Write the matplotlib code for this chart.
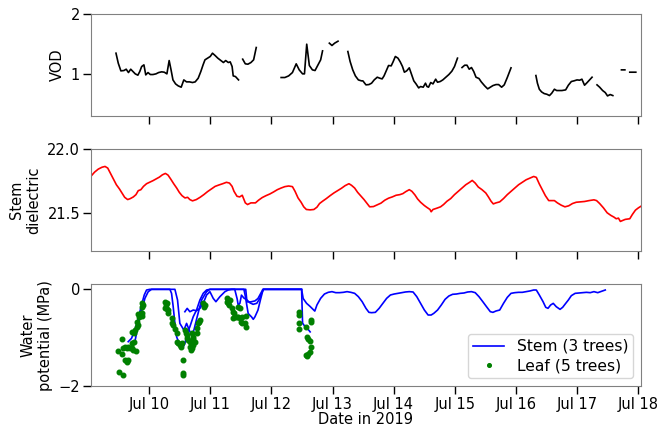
import numpy as np
import matplotlib
matplotlib.use('Agg')
import matplotlib.pyplot as plt
import matplotlib.dates as mdates

nan = np.nan

# (days since 2019-07-09 00:00, value)
vod = [
    (0.457, 1.346), (0.494, 1.179), (0.537, 1.050), (0.587, 1.056), (0.624, 1.078),
    (0.661, 1.022), (0.698, 1.078), (0.735, 1.039), (0.772, 1.000), (0.815, 0.978),
    (0.846, 1.039), (0.877, 1.123), (0.914, 1.151), (0.944, 0.983), (0.981, 1.022),
    (1.019, 0.989), (1.062, 0.989), (1.111, 1.000), (1.154, 1.022), (1.204, 1.034),
    (1.247, 1.028), (1.290, 1.000), (1.327, 1.223), (1.358, 1.067), (1.389, 0.899),
    (1.432, 0.832), (1.475, 0.799), (1.524, 0.777), (1.567, 0.899), (1.611, 0.866),
    (1.660, 0.866), (1.709, 0.855), (1.753, 0.866), (1.802, 0.927), (1.845, 1.039),
    (1.882, 1.151), (1.913, 1.235), (1.956, 1.263), (1.999, 1.291), (2.036, 1.346),
    (2.079, 1.307), (2.123, 1.263), (2.172, 1.223), (2.215, 1.190), (2.252, 1.223),
    (2.295, 1.190), (2.326, 1.201), (2.357, 1.123), (2.375, 0.966), (2.412, 0.955),
    (2.462, 0.899), (2.50, nan),
    (2.530, 1.246), (2.573, 1.168), (2.616, 1.162), (2.665, 1.190), (2.709, 1.235),
    (2.752, 1.441), (2.90, nan),
    (3.159, 0.939), (3.220, 0.939), (3.282, 0.966), (3.344, 1.022), (3.406, 1.168),
    (3.455, 1.067), (3.510, 1.000), (3.541, 1.000), (3.578, 1.497), (3.621, 1.140),
    (3.671, 1.067), (3.714, 1.056), (3.763, 1.151), (3.806, 1.235), (3.837, 1.385),
    (3.90, nan),
    (3.948, 1.514), (3.991, 1.475), (4.035, 1.514), (4.090, 1.547), (4.17, nan),
    (4.251, 1.374), (4.288, 1.207), (4.331, 1.067), (4.374, 0.966), (4.423, 0.899),
    (4.473, 0.883), (4.497, 0.883), (4.547, 0.816), (4.596, 0.821), (4.639, 0.844),
    (4.682, 0.899), (4.732, 0.944), (4.775, 0.927), (4.812, 0.916), (4.843, 0.966),
    (4.886, 1.067), (4.917, 1.140), (4.960, 1.134), (4.991, 1.201), (5.028, 1.291),
    (5.071, 1.263), (5.108, 1.201), (5.145, 1.123), (5.176, 1.028), (5.213, 1.050),
    (5.256, 1.101), (5.287, 1.011), (5.330, 0.883), (5.367, 0.832), (5.410, 0.765),
    (5.441, 0.788), (5.484, 0.777), (5.521, 0.844), (5.546, 0.788), (5.571, 0.777),
    (5.607, 0.855), (5.644, 0.832), (5.688, 0.911), (5.718, 0.860), (5.762, 0.872),
    (5.805, 0.899), (5.854, 0.944), (5.904, 0.989), (5.953, 1.045), (5.996, 1.123),
    (6.045, 1.263), (6.08, nan),
    (6.119, 1.106), (6.163, 1.145), (6.200, 1.145), (6.237, 1.078), (6.274, 1.106),
    (6.311, 1.039), (6.348, 0.944), (6.397, 0.922), (6.434, 0.866), (6.490, 0.799),
    (6.539, 0.749), (6.582, 0.777), (6.625, 0.804), (6.675, 0.821), (6.718, 0.821),
    (6.767, 0.777), (6.810, 0.816), (6.860, 0.939), (6.921, 1.101), (7.10, nan),
    (7.328, 0.972), (7.353, 0.844), (7.384, 0.743), (7.421, 0.698), (7.464, 0.670),
    (7.507, 0.659), (7.550, 0.637), (7.587, 0.676), (7.631, 0.743), (7.668, 0.721),
    (7.711, 0.721), (7.754, 0.721), (7.815, 0.732), (7.859, 0.810), (7.908, 0.872),
    (7.951, 0.883), (8.001, 0.899), (8.044, 0.894), (8.081, 0.911), (8.124, 0.810),
    (8.167, 0.855), (8.217, 0.911), (8.247, 0.944), (8.29, nan),
    (8.328, 0.816), (8.371, 0.777), (8.420, 0.721), (8.463, 0.687), (8.500, 0.631),
    (8.544, 0.654), (8.587, 0.637), (8.65, nan),
    (8.728, 1.067), (8.784, 1.067), (8.82, nan),
    (8.864, 1.028), (8.963, 1.028),
]

dielectric = [
    (0.044, 21.786), (0.106, 21.820), (0.167, 21.844), (0.229, 21.859), (0.278, 21.865),
    (0.322, 21.852), (0.365, 21.812), (0.414, 21.766), (0.463, 21.721), (0.513, 21.688),
    (0.562, 21.651), (0.599, 21.622), (0.648, 21.604), (0.692, 21.612), (0.741, 21.625),
    (0.784, 21.643), (0.821, 21.674), (0.864, 21.682), (0.907, 21.708), (0.957, 21.729),
    (1.006, 21.740), (1.062, 21.753), (1.111, 21.766), (1.167, 21.781), (1.216, 21.799),
    (1.265, 21.810), (1.308, 21.797), (1.352, 21.766), (1.401, 21.729), (1.450, 21.695),
    (1.493, 21.661), (1.537, 21.635), (1.586, 21.617), (1.629, 21.622), (1.666, 21.604),
    (1.709, 21.594), (1.771, 21.604), (1.833, 21.622), (1.894, 21.643), (1.956, 21.667),
    (2.018, 21.688), (2.079, 21.708), (2.141, 21.719), (2.203, 21.729), (2.264, 21.740),
    (2.314, 21.734), (2.357, 21.708), (2.388, 21.669), (2.437, 21.630), (2.480, 21.625),
    (2.523, 21.638), (2.548, 21.609), (2.573, 21.578), (2.610, 21.565), (2.665, 21.578),
    (2.739, 21.578), (2.789, 21.599), (2.850, 21.620), (2.912, 21.635), (2.974, 21.648),
    (3.035, 21.664), (3.097, 21.682), (3.159, 21.695), (3.220, 21.706), (3.282, 21.711),
    (3.344, 21.706), (3.387, 21.669), (3.436, 21.617), (3.486, 21.583), (3.529, 21.547),
    (3.572, 21.526), (3.634, 21.523), (3.695, 21.526), (3.745, 21.544), (3.788, 21.573),
    (3.837, 21.591), (3.899, 21.612), (3.961, 21.635), (4.022, 21.656), (4.084, 21.674),
    (4.146, 21.693), (4.207, 21.714), (4.269, 21.729), (4.312, 21.716), (4.362, 21.695),
    (4.411, 21.661), (4.460, 21.635), (4.516, 21.604), (4.565, 21.573), (4.608, 21.547),
    (4.670, 21.549), (4.732, 21.563), (4.793, 21.576), (4.855, 21.599), (4.917, 21.615),
    (4.978, 21.625), (5.040, 21.638), (5.102, 21.643), (5.151, 21.651), (5.200, 21.667),
    (5.256, 21.682), (5.299, 21.669), (5.348, 21.641), (5.392, 21.609), (5.441, 21.583),
    (5.503, 21.557), (5.546, 21.542), (5.595, 21.526), (5.614, 21.508), (5.644, 21.526),
    (5.706, 21.536), (5.768, 21.547), (5.817, 21.565), (5.873, 21.591), (5.934, 21.612),
    (5.996, 21.643), (6.058, 21.669), (6.119, 21.695), (6.181, 21.721), (6.243, 21.740),
    (6.286, 21.755), (6.335, 21.734), (6.385, 21.703), (6.446, 21.682), (6.508, 21.656),
    (6.551, 21.625), (6.594, 21.591), (6.631, 21.570), (6.675, 21.578), (6.736, 21.586),
    (6.798, 21.612), (6.860, 21.643), (6.921, 21.669), (6.983, 21.695), (7.045, 21.721),
    (7.106, 21.740), (7.168, 21.760), (7.230, 21.773), (7.292, 21.786), (7.335, 21.779),
    (7.384, 21.727), (7.433, 21.682), (7.483, 21.635), (7.538, 21.596), (7.587, 21.596),
    (7.631, 21.596), (7.680, 21.578), (7.742, 21.560), (7.803, 21.547), (7.865, 21.555),
    (7.927, 21.573), (7.988, 21.583), (8.050, 21.586), (8.124, 21.589), (8.198, 21.596),
    (8.278, 21.602), (8.321, 21.596), (8.371, 21.573), (8.433, 21.539), (8.494, 21.500),
    (8.556, 21.479), (8.605, 21.466), (8.642, 21.453), (8.679, 21.458), (8.710, 21.432),
    (8.741, 21.438), (8.790, 21.448), (8.864, 21.453), (8.907, 21.487), (8.957, 21.521),
    (9.006, 21.539), (9.049, 21.552),
]

stem_tree1 = [
    (0.657, -1.083), (0.711, -1.014), (0.765, -0.842), (0.820, -0.600), (0.875, -0.325),
    (0.919, -0.118), (0.957, -0.014), (1.011, 0.0), (1.339, 0.0), (1.366, -0.083),
    (1.393, -0.359), (1.421, -0.704), (1.448, -0.979), (1.502, -1.152), (1.546, -1.221),
    (1.584, -1.117), (1.622, -0.911), (1.666, -0.773), (1.721, -0.566), (1.775, -0.428),
    (1.830, -0.221), (1.884, -0.083), (1.939, -0.014), (1.994, 0.0), (2.40, 0.0),
    (2.44, -0.20), (2.457, -0.33), (2.484, -0.29), (2.51, -0.12), (2.55, -0.18),
    (2.60, -0.22), (2.65, -0.28), (2.70, -0.31), (2.76, -0.29), (2.81, -0.19),
    (2.84, -0.08), (2.87, 0.0), (3.494, 0.0), (3.51, -0.70), (3.55, -0.77),
    (3.59, -0.81), (3.634, -0.88),
]

stem_tree2 = [
    (0.766, -1.083), (0.793, -0.911), (0.837, -0.635), (0.875, -0.463), (0.930, -0.187),
    (0.984, -0.049), (1.039, 0.0), (1.421, 0.0), (1.464, -0.221), (1.502, -0.704),
    (1.568, -0.842), (1.612, -0.704), (1.655, -0.842), (1.693, -0.945), (1.732, -0.842),
    (1.786, -0.566), (1.857, -0.221), (1.939, -0.049), (1.994, 0.0), (2.55, 0.0),
    (2.57, -0.12), (2.62, -0.50), (2.675, -0.57), (2.703, -0.62), (2.73, -0.57),
    (2.78, -0.43), (2.82, -0.22), (2.855, -0.05), (2.87, 0.0), (3.494, 0.0),
    (3.52, -0.19), (3.576, -0.29), (3.63, -0.35), (3.71, -0.45), (3.745, -0.324),
    (3.806, -0.186), (3.868, -0.097), (3.930, -0.062), (3.991, -0.048), (4.053, -0.069),
    (4.115, -0.069), (4.177, -0.062), (4.238, -0.048), (4.300, -0.062), (4.362, -0.083),
    (4.423, -0.152), (4.485, -0.255), (4.547, -0.393), (4.596, -0.476), (4.639, -0.483),
    (4.701, -0.476), (4.763, -0.393), (4.824, -0.290), (4.886, -0.186), (4.948, -0.117),
    (5.009, -0.097), (5.071, -0.083), (5.133, -0.069), (5.194, -0.055), (5.256, -0.048),
    (5.318, -0.055), (5.379, -0.152), (5.441, -0.290), (5.503, -0.428), (5.564, -0.531),
    (5.614, -0.531), (5.657, -0.497), (5.719, -0.428), (5.780, -0.324), (5.842, -0.207),
    (5.904, -0.138), (5.965, -0.103), (6.027, -0.097), (6.089, -0.083), (6.150, -0.076),
    (6.212, -0.055), (6.274, -0.048), (6.335, -0.069), (6.397, -0.152), (6.459, -0.255),
    (6.520, -0.359), (6.582, -0.462), (6.625, -0.476), (6.675, -0.448), (6.736, -0.428),
    (6.798, -0.290), (6.860, -0.166), (6.921, -0.083), (6.983, -0.069), (7.045, -0.062),
    (7.106, -0.062), (7.168, -0.048), (7.230, -0.034), (7.292, -0.014), (7.335, -0.014),
    (7.384, -0.117), (7.445, -0.255), (7.489, -0.372), (7.526, -0.393), (7.569, -0.324),
    (7.612, -0.290), (7.661, -0.359), (7.723, -0.414), (7.766, -0.372), (7.816, -0.290),
    (7.859, -0.221), (7.908, -0.131), (7.970, -0.083), (8.032, -0.076), (8.093, -0.069),
    (8.155, -0.062), (8.217, -0.069), (8.278, -0.048), (8.340, -0.069), (8.402, -0.041),
    (8.463, -0.014),
]

stem_tree3 = [
    (1.584, -0.463), (1.622, -0.394), (1.666, -0.463), (1.721, -0.428), (1.775, -0.442),
    (1.830, -0.394), (1.884, -0.290), (1.939, -0.118), (1.994, -0.049), (2.048, -0.187),
    (2.092, -0.256), (2.157, -0.152), (2.239, -0.049), (2.293, -0.014), (2.35, 0.0),
    (2.58, 0.0), (2.60, -0.26), (2.66, -0.26), (2.73, -0.24), (2.78, -0.19),
    (2.84, -0.05), (2.86, 0.0), (3.494, 0.0),
]

leaf = [
    (0.493, -1.276), (0.510, -1.704), (0.564, -1.773), (0.559, -1.035), (0.548, -1.338),
    (0.576, -1.221), (0.603, -1.186), (0.630, -1.221), (0.657, -1.186), (0.684, -1.221),
    (0.711, -1.221), (0.739, -1.255), (0.777, -1.276), (0.603, -1.462), (0.630, -1.497),
    (0.657, -1.462), (0.711, -1.117), (0.750, -1.083), (0.711, -0.876), (0.766, -0.842),
    (0.750, -0.911), (0.793, -0.773), (0.820, -0.738), (0.804, -0.669), (0.837, -0.566),
    (0.859, -0.497), (0.875, -0.552), (0.886, -0.483), (0.820, -0.518), (0.875, -0.290),
    (0.875, -0.359), (0.891, -0.325),
    (1.257, -0.256), (1.268, -0.325), (1.257, -0.394), (1.284, -0.414), (1.312, -0.428),
    (1.312, -0.497), (1.295, -0.290), (1.366, -0.600), (1.366, -0.704), (1.393, -0.738),
    (1.421, -0.828), (1.448, -0.911), (1.448, -1.083), (1.475, -1.117), (1.502, -1.152),
    (1.513, -1.186), (1.530, -1.117), (1.546, -1.462), (1.557, -1.738), (1.557, -1.773),
    (1.584, -0.842), (1.601, -0.911), (1.612, -0.945), (1.622, -1.014), (1.639, -1.048),
    (1.666, -1.083), (1.666, -1.186), (1.677, -1.255), (1.693, -1.221), (1.721, -1.152),
    (1.748, -1.083), (1.775, -0.911), (1.786, -0.807), (1.802, -0.704), (1.819, -0.669),
    (1.830, -0.635), (1.693, -0.911), (1.721, -0.979), (1.710, -1.035), (1.884, -0.290),
    (1.900, -0.359), (1.912, -0.325),
    (2.266, -0.187), (2.277, -0.256), (2.293, -0.290), (2.321, -0.221), (2.310, -0.325),
    (2.282, -0.221), (2.348, -0.394), (2.375, -0.463), (2.386, -0.497), (2.375, -0.600),
    (2.403, -0.580), (2.430, -0.566), (2.457, -0.566), (2.484, -0.600), (2.512, -0.580),
    (2.457, -0.359), (2.484, -0.394), (2.495, -0.669), (2.512, -0.690), (2.566, -0.704),
    (2.583, -0.773), (2.577, -0.552),
    (3.450, -0.463), (3.455, -0.532), (3.455, -0.704), (3.455, -0.828), (3.565, -0.773),
    (3.575, -0.994), (3.603, -1.035), (3.630, -1.062), (3.641, -1.186), (3.630, -1.290),
    (3.603, -1.338), (3.565, -1.359), (3.575, -1.379), (3.641, -0.635), (3.646, -0.669),
]

start = mdates.date2num(np.datetime64('2019-07-09T00:00'))


def to_xy(pairs):
    arr = np.array(pairs, dtype=float)
    return start + arr[:, 0], arr[:, 1]


plt.rcParams['font.family'] = 'DejaVu Sans'
plt.rcParams['font.size'] = 10.5

fig, axes = plt.subplots(3, 1, sharex=True, figsize=(6.7, 4.28), dpi=100)
fig.subplots_adjust(left=0.136, right=0.956, top=0.967, bottom=0.098, hspace=0.331)

x, y = to_xy(vod)
axes[0].plot(x, y, color='k', lw=1.2)
axes[0].set_ylim(0.3, 2)
axes[0].set_yticks([1, 2])
axes[0].set_ylabel('VOD')

x, y = to_xy(dielectric)
axes[1].plot(x, y, color='r', lw=1.2)
axes[1].set_ylim(21.2, 22.0)
axes[1].set_yticks([21.5, 22.0])
axes[1].set_ylabel('Stem\ndielectric')

ax = axes[2]
for i, tree in enumerate([stem_tree1, stem_tree2, stem_tree3]):
    x, y = to_xy(tree)
    ax.plot(x, y, color='b', lw=1.2, label='Stem (3 trees)' if i == 0 else None)
x, y = to_xy(leaf)
ax.plot(x, y, 'o', color='g', ms=3.3, label='Leaf (5 trees)')
ax.set_ylim(-2, 0.1)
ax.set_yticks([-2, 0])
ax.set_ylabel('Water\npotential (MPa)')
ax.set_xlabel('Date in 2019', labelpad=0)
ax.legend(loc='lower right', fontsize=11.2, labelspacing=0.3, borderpad=0.3,
          markerscale=0.8)

ax.set_xlim(start + 0.05, start + 9.04)
ax.xaxis.set_major_locator(mdates.DayLocator())
ax.xaxis.set_major_formatter(mdates.DateFormatter('%b %d'))

for a in axes:
    for s in a.spines.values():
        s.set_color('0.5')
    a.tick_params(direction='out', length=6, width=1, pad=2, colors='k')

fig.savefig('out.png', dpi=100)
